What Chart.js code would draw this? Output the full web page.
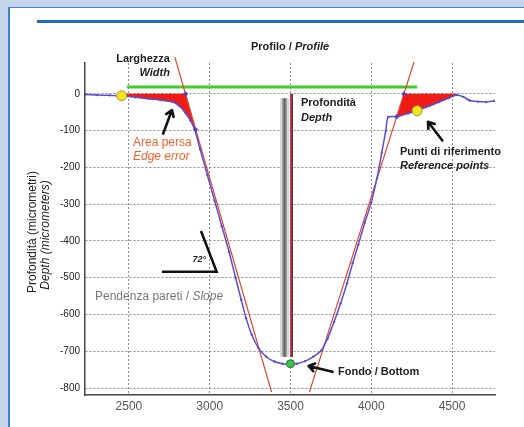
<!DOCTYPE html>
<html>
<head>
<meta charset="utf-8">
<script src="https://cdn.jsdelivr.net/npm/chart.js@4.4.1/dist/chart.umd.min.js"></script>
<style>
  html, body { margin: 0; padding: 0; width: 524px; height: 427px; overflow: hidden; background: #c6d6ea; }
  #panel { position: absolute; left: 8px; top: 7px; right: 0; bottom: 0; background: #fff;
           border-left: 2px solid #3b86c6; border-top: 1px solid #3b86c6; }
  #rule { position: absolute; left: 37px; top: 20px; right: 0; height: 3px; background: #1f6fb3; }
  #wrap { position: absolute; left: 0; top: 0; width: 524px; height: 427px; }
</style>
</head>
<body>
<div id="panel"></div>
<div id="rule"></div>
<div id="wrap"><canvas id="c" width="524" height="427"></canvas></div>
<script>
// Axis ticks
const xTicks = [2500, 3000, 3500, 4000, 4500];
const yTicks = [0, -100, -200, -300, -400, -500, -600, -700, -800];

// Measured profile (position in micrometres, depth in micrometres)
const profileX = [2230, 2300, 2380, 2455, 2540, 2620, 2700, 2772, 2810, 2850, 2880, 2907, 2940, 2985, 3030,
                  3075, 3120, 3160, 3195, 3225, 3260, 3300, 3350, 3400, 3450, 3494, 3540, 3590, 3640, 3691,
                  3730, 3770, 3810, 3850, 3885, 3920, 3960, 4000, 4035, 4065, 4090, 4105, 4160, 4230, 4296,
                  4360, 4420, 4481, 4530, 4570, 4610, 4660, 4710, 4760];
const profileY = [-2, -3, -4, -5, -9, -13, -17, -22, -32, -52, -72, -97, -150, -220, -290,
                  -360, -430, -500, -560, -610, -655, -690, -715, -728, -734, -736, -734, -727, -715, -698,
                  -665, -620, -570, -515, -460, -410, -350, -295, -230, -160, -100, -63, -62, -53, -43,
                  -33, -22, -11, -3, -8, -18, -21, -22, -19];

// Fitted wall lines (slope)
const leftWallX = [2784, 3383];
const leftWallY = [100, -811];
const rightWallX = [3617, 4265];
const rightWallY = [-811, 87];

// Lost edge areas (between surface level, wall line and profile)
const edgeLeftX = [2462, 2851, 2912, 2880, 2850, 2810, 2772, 2700, 2620, 2540, 2462];
const edgeLeftY = [0, 0, -97, -72, -52, -32, -22, -17, -13, -9, -5];
const edgeRightX = [4202, 4525, 4481, 4420, 4360, 4296, 4230, 4160, 4202];
const edgeRightY = [0, 0, -11, -22, -33, -43, -53, -62, 0];

// Width bar
const widthX = [2488, 4284];
const widthY = [19, 19];

// Depth markers
const depthBarX = [3463, 3463];
const depthBarY = [-12, -715];
const depthLineX = [3504, 3504];
const depthLineY = [0, -715];

// Reference points, wall/surface intersections, bottom
const refX = [2455, 4284];
const refY = [-5, -46];
const crossX = [2851, 2912, 4202, 4158];
const crossY = [0, -97, 0, -62];
const bottomX = [3500];
const bottomY = [-734];

// Slope angle marker
const angleX = [2704, 3043, 2946];
const angleY = [-484, -484, -373];

const pts = (xs, ys) => xs.map((v, i) => ({ x: v, y: ys[i] }));

const FONT = '"Liberation Sans", Arial, Helvetica, sans-serif';

function drawRuns(ctx, runs, x, y, align) {
  let total = 0;
  runs.forEach(r => { ctx.font = r.font; r.w = ctx.measureText(r.text).width; total += r.w; });
  let cx = align === 'center' ? x - total / 2 : (align === 'right' ? x - total : x);
  ctx.textAlign = 'left';
  ctx.textBaseline = 'middle';
  runs.forEach(r => { ctx.font = r.font; ctx.fillStyle = r.color; ctx.fillText(r.text, cx, y); cx += r.w; });
}

function chevronArrow(ctx, x0, y0, x1, y1) {
  const a = Math.atan2(y1 - y0, x1 - x0);
  const h = 7;
  ctx.save();
  ctx.strokeStyle = '#111';
  ctx.lineWidth = 2.6;
  ctx.lineCap = 'round';
  ctx.lineJoin = 'round';
  ctx.beginPath();
  ctx.moveTo(x0, y0);
  ctx.lineTo(x1, y1);
  ctx.moveTo(x1 - h * Math.cos(a - 0.6), y1 - h * Math.sin(a - 0.6));
  ctx.lineTo(x1, y1);
  ctx.lineTo(x1 - h * Math.cos(a + 0.6), y1 - h * Math.sin(a + 0.6));
  ctx.stroke();
  ctx.restore();
}

const labelsPlugin = {
  id: 'profileLabels',
  afterDraw(chart) {
    const { ctx, scales: { x, y } } = chart;
    const px = v => x.getPixelForValue(v);
    const py = v => y.getPixelForValue(v);
    const B = 'bold 11px ' + FONT;
    const BI = 'italic bold 11px ' + FONT;
    ctx.save();

    drawRuns(ctx, [{ text: 'Profilo / ', font: B, color: '#222' },
                   { text: 'Profile', font: BI, color: '#222' }], px(3497), py(128), 'center');

    drawRuns(ctx, [{ text: 'Larghezza', font: B, color: '#222' }], px(2754), py(96), 'right');
    drawRuns(ctx, [{ text: 'Width', font: BI, color: '#222' }], px(2754), py(58), 'right');

    drawRuns(ctx, [{ text: 'Profondità', font: B, color: '#222' }], px(3565), py(-24), 'left');
    drawRuns(ctx, [{ text: 'Depth', font: BI, color: '#222' }], px(3565), py(-65), 'left');

    drawRuns(ctx, [{ text: 'Area persa', font: '12px ' + FONT, color: '#f0602c' }], px(2525), py(-133), 'left');
    drawRuns(ctx, [{ text: 'Edge error', font: 'italic 12px ' + FONT, color: '#f0602c' }], px(2525), py(-171), 'left');

    drawRuns(ctx, [{ text: 'Punti di riferimento', font: B, color: '#222' }], px(4178), py(-158), 'left');
    drawRuns(ctx, [{ text: 'Reference points', font: BI, color: '#222' }], px(4178), py(-196), 'left');

    drawRuns(ctx, [{ text: 'Pendenza pareti / ', font: '12px ' + FONT, color: '#777' },
                   { text: 'Slope', font: 'italic 12px ' + FONT, color: '#777' }], px(2290), py(-552), 'left');

    drawRuns(ctx, [{ text: '72°', font: 'italic bold 9px ' + FONT, color: '#222' }], px(2935), py(-450), 'center');

    drawRuns(ctx, [{ text: 'Fondo / Bottom', font: B, color: '#222' }], px(3794), py(-756), 'left');

    chevronArrow(ctx, px(2712), py(-108), px(2766), py(-44));
    chevronArrow(ctx, px(4440), py(-127), px(4351), py(-76));
    chevronArrow(ctx, px(3760), py(-756), px(3612), py(-740));

    // Axis title, two lines rotated
    ctx.save();
    ctx.translate(33, 232);
    ctx.rotate(-Math.PI / 2);
    drawRuns(ctx, [{ text: 'Profondità (micrometri)', font: '12px ' + FONT, color: '#222' }], 0, 0, 'center');
    ctx.restore();
    ctx.save();
    ctx.translate(46, 235);
    ctx.rotate(-Math.PI / 2);
    drawRuns(ctx, [{ text: 'Depth (micrometers)', font: 'italic 12px ' + FONT, color: '#222' }], 0, 0, 'center');
    ctx.restore();

    ctx.restore();
  }
};

const lineDs = (data, color, width, order, extra) => Object.assign({
  data, borderColor: color, backgroundColor: color, borderWidth: width,
  pointRadius: 0, fill: false, tension: 0, order
}, extra || {});

new Chart(document.getElementById('c'), {
  type: 'line',
  data: {
    datasets: [
      lineDs(pts(edgeLeftX, edgeLeftY), '#ee1c14', 0.5, 20, { fill: 'shape', backgroundColor: '#ee1c14' }),
      lineDs(pts(edgeRightX, edgeRightY), '#ee1c14', 0.5, 20, { fill: 'shape', backgroundColor: '#ee1c14' }),
      lineDs(pts(depthBarX, depthBarY), '#d8d8d8', 9, 18),
      lineDs(pts(depthBarX, depthBarY), '#a4a4a4', 5, 17),
      lineDs(pts(depthBarX, depthBarY), '#606060', 2, 16),
      lineDs(pts(depthLineX.map(v => v + 6), depthLineY), '#2a2a6a', 1, 15),
      lineDs(pts(depthLineX, depthLineY), '#cc2020', 1.8, 14),
      lineDs(pts(widthX, widthY), '#3fcc2a', 3, 13, { clip: false }),
      lineDs(pts(leftWallX, leftWallY), '#d8452f', 1.2, 12, { clip: false }),
      lineDs(pts(rightWallX, rightWallY), '#d8452f', 1.2, 12, { clip: false }),
      lineDs(pts(profileX, profileY), '#5a4fcf', 1.5, 10, { tension: 0.25, pointRadius: 1.2, pointBorderWidth: 0 }),
      lineDs(pts(angleX, angleY), '#111', 2.5, 9),
      lineDs(pts(crossX, crossY), '#5a3fc0', 0, 8, { showLine: false, pointRadius: 2.6, pointStyle: 'rectRot' }),
      lineDs(pts(refX, refY), '#f2e21c', 1, 7, { showLine: false, pointRadius: 5, borderColor: '#9a9a50', backgroundColor: '#f4e41e' }),
      lineDs(pts(bottomX, bottomY), '#33b54a', 1, 6, { showLine: false, pointRadius: 4, borderColor: '#1e7a30', backgroundColor: '#3cc050' })
    ]
  },
  options: {
    responsive: false,
    animation: false,
    devicePixelRatio: 1,
    layout: { padding: { left: 0, right: 29, top: 63, bottom: 0 } },
    plugins: { legend: { display: false }, tooltip: { enabled: false }, title: { display: false } },
    scales: {
      x: {
        type: 'linear', min: 2228, max: 4766,
        afterBuildTicks: s => { s.ticks = xTicks.map(v => ({ value: v })); },
        afterFit: s => { s.height = 32; },
        ticks: { color: '#555', font: { family: FONT, size: 12 }, padding: 4, maxRotation: 0, autoSkip: false,
                 callback: v => String(v) },
        grid: { color: '#8c8c8c', lineWidth: 1, drawTicks: false, borderDash: [2, 2] },
        border: { display: true, color: '#444', width: 1.5, dash: [2, 2] }
      },
      y: {
        type: 'linear', min: -819, max: 84,
        afterBuildTicks: s => { s.ticks = yTicks.map(v => ({ value: v })); },
        afterFit: s => { s.width = 85; },
        ticks: { color: '#222', font: { family: FONT, size: 10 }, padding: 5,
                 autoSkip: false, callback: v => String(v) },
        grid: { color: '#8c8c8c', lineWidth: 1, drawTicks: false, borderDash: [2, 2] },
        border: { display: true, color: '#444', width: 1.5, dash: [2, 2] }
      }
    }
  },
  plugins: [labelsPlugin]
});
</script>
</body>
</html>
